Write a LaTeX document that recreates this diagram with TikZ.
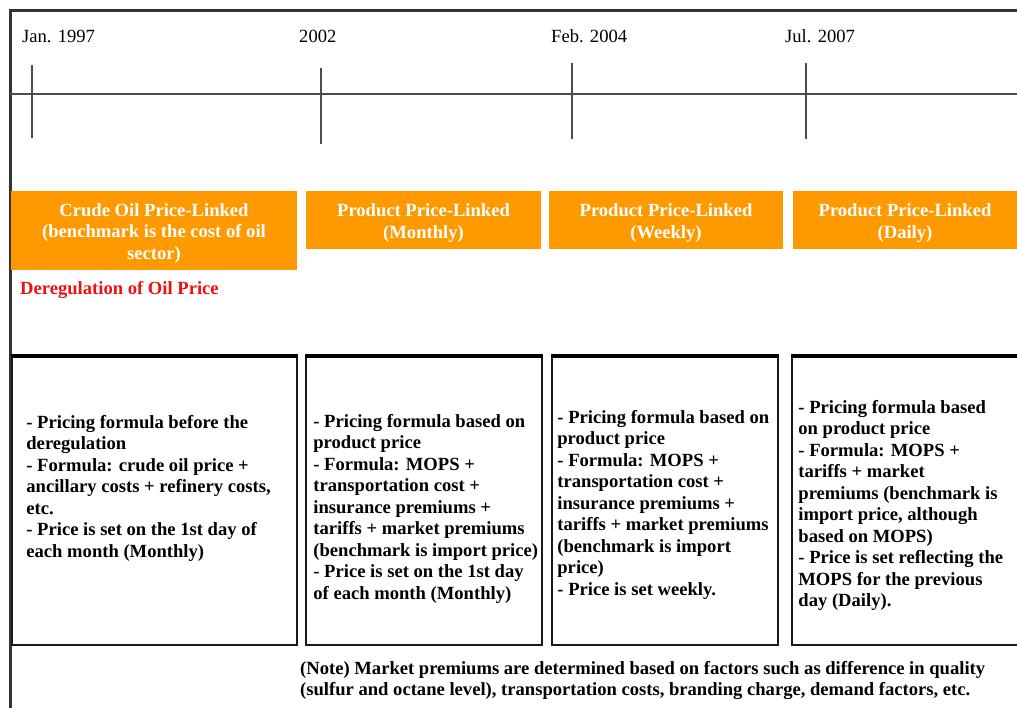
\documentclass[tikz,border=0pt]{standalone}
\usepackage{fontspec}
\setmainfont{Liberation Serif}
\usetikzlibrary{positioning}
\definecolor{phaseorange}{HTML}{FF9900}
\definecolor{derego}{HTML}{F01010}
\tikzset{
  phase/.style={fill=phaseorange, inner sep=0pt, minimum height=58pt},
  phasetext/.style={text=white, font=\bfseries\fontsize{18.6}{21.5}\selectfont, align=center, inner sep=0pt},
  detailbox/.style={draw=black!90, line width=1.6pt, minimum height=288pt, inner sep=0pt},
  detail/.style={font=\bfseries\fontsize{18.6}{21.5}\selectfont, align=left, anchor=west, inner sep=0pt},
  datelabel/.style={font=\fontsize{18.6}{21.5}\selectfont, anchor=west, inner sep=0pt},
  tick/.style={line width=2.2pt, black!70},
}

\begin{document}
\begin{tikzpicture}[x=1pt, y=-1pt]
    \clip (0,0) rectangle (1017,708);
    % Frame
    \draw[line width=3pt, black!80] (10,720) -- (10,11) -- (1030,11);
    % Timeline
    \coordinate (tstart) at (10,94);
    \coordinate (tend) at (1030,94);
    \draw[line width=2.5pt, black!70] (tstart) -- (tend);
    \foreach \x/\top/\bot in {32/65/138, 321/68/144, 572/63/139, 806/63/139}
        \draw[tick] (\x,\top) -- (\x,\bot);
    % Dates
    \node[datelabel] (d1997) at (22,36.5) {Jan. 1997};
    \node[datelabel] (d2002) at (299,36.5) {2002};
    \node[datelabel] (d2004) at (551,36.5) {Feb. 2004};
    \node[datelabel] (d2007) at (785,36.5) {Jul. 2007};
    % Phases
    \node[phase, minimum width=286pt, minimum height=79pt] (p1) at (154,230.5) {};
    \node[phase, minimum width=235pt] (p2) at (423.5,220) {};
    \node[phase, minimum width=234pt] (p3) at (666,220) {};
    \node[phase, minimum width=224pt] (p4) at (905,220) {};
    \node[phasetext] (p1t) at ([yshift=-3pt]p1.center)
        {Crude Oil Price-Linked\\(benchmark is the cost of oil\\sector)};
    \node[phasetext] (p2t) at ([yshift=-3pt]p2.center) {Product Price-Linked\\(Monthly)};
    \node[phasetext] (p3t) at ([yshift=-3pt]p3.center) {Product Price-Linked\\(Weekly)};
    \node[phasetext] (p4t) at ([yshift=-3pt]p4.center) {Product Price-Linked\\(Daily)};
    \node[detail, text=derego] (dereg) at (20,290) {Deregulation of Oil Price};
    % Boxes
    \node[detailbox, minimum width=285pt] (b1) at (154.5,501) {};
    \node[detailbox, minimum width=236pt] (b2) at (424,501) {};
    \node[detailbox, minimum width=226pt] (b3) at (665,501) {};
    \node[detailbox, minimum width=245pt] (b4) at (914.5,501) {};
    \foreach \b in {b1,b2,b3,b4}
        \draw[line width=3.5pt] (\b.north west) -- (\b.north east);
    \node[detail] (t1) at ([xshift=15pt, yshift=13pt]b1.west)
        {- Pricing formula before the\\deregulation\\- Formula: crude oil price +\\ancillary costs + refinery costs,\\etc.\\- Price is set on the 1st day of\\each month (Monthly)};
    \node[detail] (t2) at ([xshift=8pt, yshift=-7.5pt]b2.west)
        {- Pricing formula based on\\product price\\- Formula: MOPS +\\transportation cost +\\insurance premiums +\\tariffs + market premiums\\(benchmark is import price)\\- Price is set on the 1st day\\of each month (Monthly)};
    \node[detail] (t3) at ([xshift=6pt, yshift=-3.5pt]b3.west)
        {- Pricing formula based on\\product price\\- Formula: MOPS +\\transportation cost +\\insurance premiums +\\tariffs + market premiums\\(benchmark is import\\price)\\- Price is set weekly.};
    \node[detail] (t4) at ([xshift=7pt, yshift=-4.5pt]b4.west)
        {- Pricing formula based\\on product price\\- Formula: MOPS +\\tariffs + market\\premiums (benchmark is\\import price, although\\based on MOPS)\\- Price is set reflecting the\\MOPS for the previous\\day (Daily).};
    % Note
    \node[detail] (note) at (300,680.5)
        {(Note) Market premiums are determined based on factors such as difference in quality\\(sulfur and octane level), transportation costs, branding charge, demand factors, etc.};
\end{tikzpicture}
\end{document}
